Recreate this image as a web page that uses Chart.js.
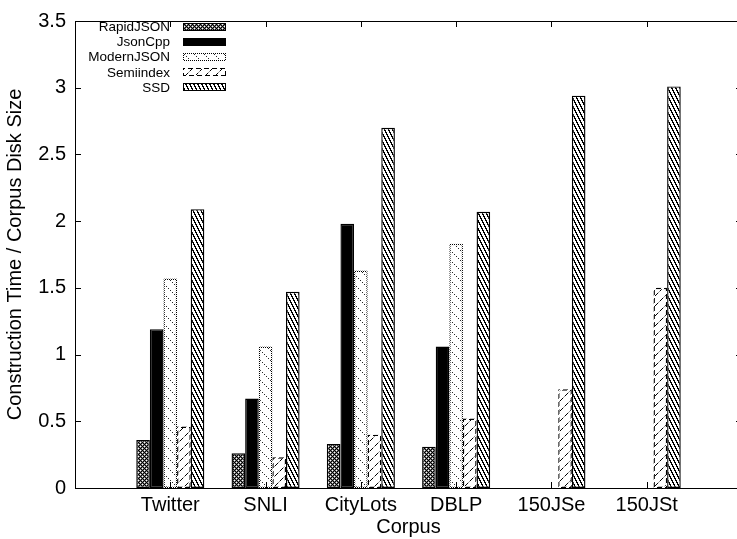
<!DOCTYPE html>
<html>
<head>
<meta charset="utf-8">
<script src="https://cdn.jsdelivr.net/npm/chart.js@4/dist/chart.umd.min.js"></script>
<style>
html, body { margin: 0; padding: 0; overflow: hidden; background: #fff; }
#wrap { width: 745px; height: 539px; }
</style>
</head>
<body>
<div id="wrap"><canvas id="chart" width="745" height="539"></canvas></div>
<script>
// values (construction time / corpus disk size)
const corpora = ['Twitter', 'SNLI', 'CityLots', 'DBLP', '150JSe', '150JSt'];
const rapidJSON = [0.36, 0.26, 0.33, 0.31, null, null];
const jsonCpp = [1.19, 0.67, 1.98, 1.06, null, null];
const modernJSON = [1.57, 1.06, 1.63, 1.83, null, null];
const semiindex = [0.46, 0.23, 0.40, 0.52, 0.74, 1.50];
const ssd = [2.09, 1.47, 2.70, 2.07, 2.94, 3.01];
const yTicks = [0, 0.5, 1, 1.5, 2, 2.5, 3, 3.5];

const FONT = 'Liberation Sans, Arial, sans-serif';

// builds a small pixel tile and turns it into a canvas pattern
function tile(w, h, pick) {
    const c = document.createElement('canvas');
    c.width = w; c.height = h;
    const g = c.getContext('2d');
    const img = g.createImageData(w, h);
    for (let y = 0; y < h; y++) {
        for (let x = 0; x < w; x++) {
            const v = pick(x, y);
            const i = (y * w + x) * 4;
            img.data[i] = img.data[i + 1] = img.data[i + 2] = v;
            img.data[i + 3] = 255;
        }
    }
    g.putImageData(img, 0, 0);
    return g.createPattern(c, 'repeat');
}

const mod = (a, n) => ((a % n) + n) % n;

const fills = {
    cross: tile(4, 4, (x, y) => {
        const a = mod(x + y, 4), b = mod(x - y, 4);
        if (a === 0 || b === 0) return 0;
        return (a === 2 && b === 2) ? 255 : 120;
    }),
    solid: '#000',
    dotBack: tile(10, 10, (x, y) => (mod(y - x, 10) === 0 && x % 2 === 0) ? 40 : 255),
    dashFwd: tile(10, 10, (x, y) => {
        if (mod(x + y, 10) !== 0) return 255;
        return mod(x, 5) < 3 ? 0 : 150;
    }),
    steepBack: tile(4, 8, (x, y) => mod(y - 2 * x, 8) < 3 ? 0 : 255)
};
const borders = {
    solid: '#000',
    dotted: tile(2, 2, (x, y) => mod(x + y, 2) === 0 ? 0 : 255),
    dashed: tile(8, 8, (x, y) => mod(x + y, 8) < 5 ? 0 : 255)
};

function series(label, values, fill, border) {
    return {
        label: label,
        data: values.map((v, i) => ({ x: i, y: v })),
        backgroundColor: fill,
        borderColor: border,
        borderWidth: 1.4,
        borderSkipped: false,
        inflateAmount: 0
    };
}

const frameAndLegend = {
    id: 'frameAndLegend',
    afterDatasetsDraw(chart) {
        const ctx = chart.ctx;
        const a = chart.chartArea;
        const xs = chart.scales.x, ys = chart.scales.y;
        const tick = 6;
        ctx.save();
        ctx.strokeStyle = '#000';
        ctx.lineWidth = 1;
        ctx.beginPath();
        ctx.rect(Math.round(a.left) + 0.5, Math.round(a.top) + 0.5,
            Math.round(a.right - a.left), Math.round(a.bottom - a.top));
        ctx.stroke();
        ctx.beginPath();
        yTicks.forEach(v => {
            const py = Math.round(ys.getPixelForValue(v)) + 0.5;
            ctx.moveTo(a.left, py); ctx.lineTo(a.left + tick, py);
            ctx.moveTo(a.right, py); ctx.lineTo(a.right - tick, py);
        });
        corpora.forEach((c, i) => {
            const px = Math.round(xs.getPixelForValue(i)) + 0.5;
            ctx.moveTo(px, a.bottom); ctx.lineTo(px, a.bottom - tick);
            ctx.moveTo(px, a.top); ctx.lineTo(px, a.top + tick);
        });
        ctx.stroke();

        // legend: right aligned text, sample box on the right
        ctx.font = '13.5px ' + FONT;
        ctx.textAlign = 'right';
        ctx.textBaseline = 'middle';
        ctx.fillStyle = '#000';
        chart.data.datasets.forEach((ds, i) => {
            const cy = 27 + i * 15.1;
            ctx.fillText(ds.label, 170, cy + 0.5);
            const bx = 183, bw = 43, bh = 8;
            const by = Math.round(cy - bh / 2);
            ctx.fillStyle = ds.borderColor;
            ctx.fillRect(bx, by, bw, bh);
            ctx.fillStyle = ds.backgroundColor;
            ctx.fillRect(bx + 1, by + 1, bw - 2, bh - 2);
            ctx.fillStyle = '#000';
        });
        ctx.restore();
    }
};

new Chart(document.getElementById('chart'), {
    type: 'bar',
    data: {
        datasets: [
            series('RapidJSON', rapidJSON, fills.cross, borders.solid),
            series('JsonCpp', jsonCpp, fills.solid, borders.solid),
            series('ModernJSON', modernJSON, fills.dotBack, borders.dotted),
            series('Semiindex', semiindex, fills.dashFwd, borders.dashed),
            series('SSD', ssd, fills.steepBack, borders.solid)
        ]
    },
    options: {
        responsive: false,
        animation: false,
        devicePixelRatio: 1,
        categoryPercentage: 5 / 7,
        barPercentage: 1,
        layout: { padding: { top: 13, right: 3, left: 0, bottom: 0 } },
        plugins: {
            legend: { display: false },
            tooltip: { enabled: false }
        },
        scales: {
            x: {
                type: 'linear',
                min: -1,
                max: 6,
                offset: false,
                grid: { display: false, drawTicks: false, offset: false },
                border: { display: false },
                afterBuildTicks: (scale) => {
                    scale.ticks = corpora.map((c, i) => ({ value: i }));
                },
                afterFit: (scale) => { scale.height = 51; },
                ticks: {
                    color: '#000',
                    font: { family: FONT, size: 20 },
                    padding: 5,
                    maxRotation: 0,
                    autoSkip: false,
                    callback: (v) => corpora[v] ?? ''
                },
                title: {
                    display: true,
                    text: 'Corpus',
                    color: '#000',
                    font: { family: FONT, size: 20 },
                    padding: { top: 2, bottom: 0 }
                }
            },
            y: {
                min: 0,
                max: 3.5,
                grid: { display: false, drawTicks: false },
                border: { display: false },
                afterBuildTicks: (scale) => {
                    scale.ticks = yTicks.map(v => ({ value: v }));
                },
                afterFit: (scale) => { scale.width = 75; },
                ticks: {
                    color: '#000',
                    font: { family: FONT, size: 20 },
                    padding: 9,
                    callback: (v) => String(v)
                },
                title: {
                    display: true,
                    text: 'Construction Time / Corpus Disk Size',
                    color: '#000',
                    font: { family: FONT, size: 20 },
                    padding: { top: 3, bottom: 0 }
                }
            }
        }
    },
    plugins: [frameAndLegend]
});
</script>
</body>
</html>
